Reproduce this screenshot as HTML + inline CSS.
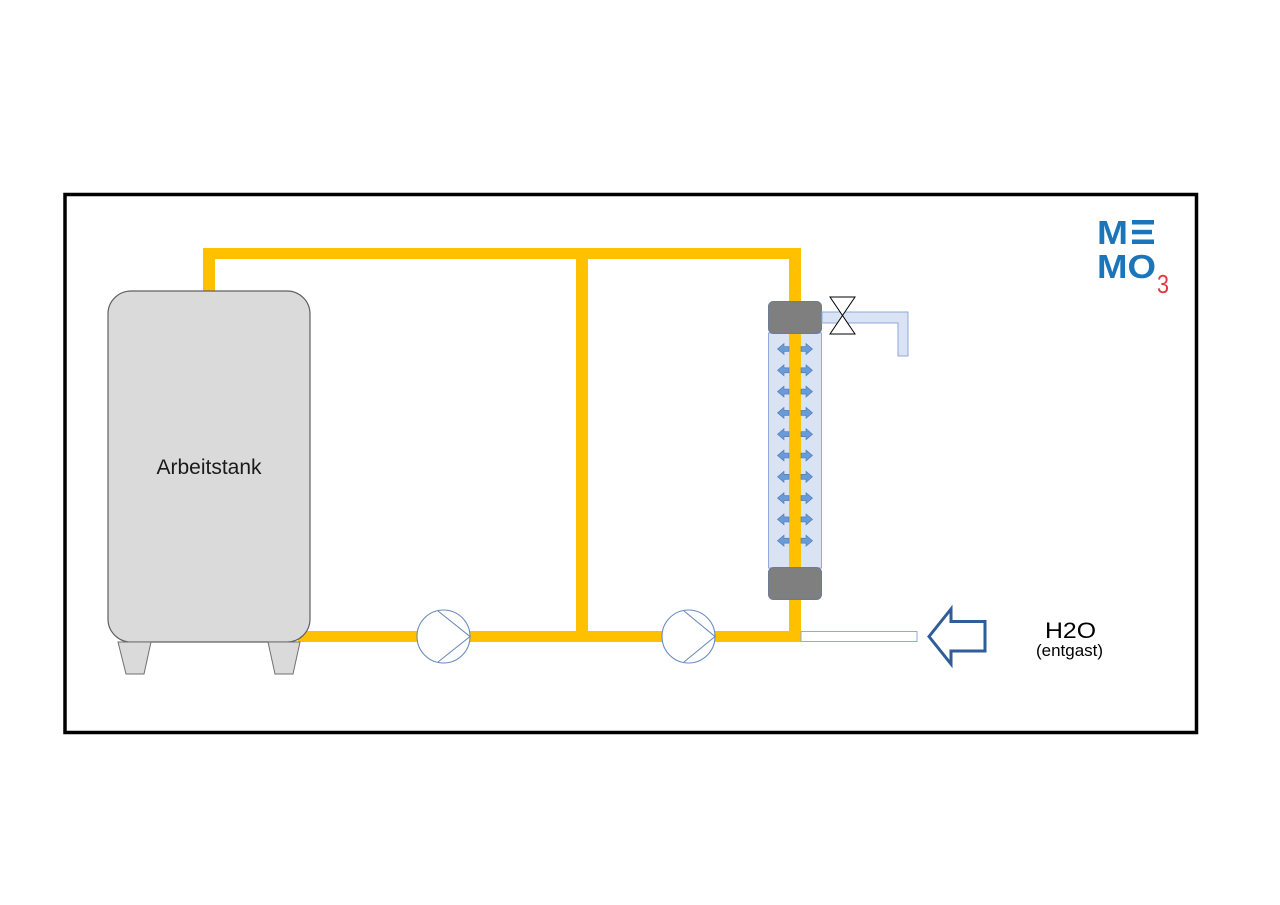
<!DOCTYPE html>
<html>
<head>
<meta charset="utf-8">
<style>
  html, body { margin: 0; padding: 0; background: #ffffff; }
  body { width: 1280px; height: 905px; overflow: hidden; }
  svg { display: block; }
</style>
</head>
<body>
<svg width="1280" height="905" viewBox="0 0 1280 905" xmlns="http://www.w3.org/2000/svg">
  <rect x="0" y="0" width="1280" height="905" fill="#ffffff"/>
  <!-- outer frame -->
  <rect x="65" y="194.5" width="1131.5" height="538" fill="#ffffff" stroke="#000000" stroke-width="3.5"/>

  <!-- yellow pipes -->
  <g fill="#ffc000">
    <rect x="203" y="248" width="598" height="11"/>
    <rect x="203" y="248" width="12" height="45"/>
    <rect x="576" y="248" width="12" height="394"/>
    <rect x="789" y="248" width="12" height="55"/>
    <rect x="789" y="598" width="12" height="44"/>
    <rect x="298" y="631" width="503" height="11"/>
  </g>

  <!-- tank -->
  <path d="M131,291 H287 A23,23 0 0 1 310,314 V619 A23,23 0 0 1 287,642 H131 A23,23 0 0 1 108,619 V314 A23,23 0 0 1 131,291 Z" fill="#dadada" stroke="#606060" stroke-width="1.2"/>
  <polygon points="118,642 151,642 144,674 126,674" fill="#dadada" stroke="#707070" stroke-width="1"/>
  <polygon points="268,642 300,642 293,674 275,674" fill="#dadada" stroke="#707070" stroke-width="1"/>
  <text x="209" y="474" text-anchor="middle" font-family="Liberation Sans, Arial, sans-serif" font-size="21" fill="#1a1a1a">Arbeitstank</text>

  <!-- pumps -->
  <g fill="#ffffff" stroke="#6a8bbd" stroke-width="1.1">
    <circle cx="443.5" cy="636.5" r="26.5"/>
    <polyline points="438,611 470,636.5 438,662" fill="none"/>
    <circle cx="688.5" cy="636.5" r="26.5"/>
    <polyline points="684,611 715,636.5 684,662" fill="none"/>
  </g>

  <!-- column -->
  <rect x="768.5" y="333" width="53" height="235" fill="#dae3f3" stroke="#8faadc" stroke-width="1"/>
  <rect x="789" y="333" width="12" height="236" fill="#ffc000"/>
  <rect x="768.5" y="301.5" width="53" height="32" rx="5" ry="5" fill="#7f7f7f" stroke="#6b7b98" stroke-width="1"/>
  <rect x="768.5" y="567.5" width="53" height="32" rx="5" ry="5" fill="#7f7f7f" stroke="#6b7b98" stroke-width="1"/>

  <!-- double arrows -->
  <g fill="#6a9bd6" stroke="#4a78b8" stroke-width="0.6">
    <g id="da">
      <polygon points="777.5,349 784,343.5 784,346.5 789,346.5 789,351.5 784,351.5 784,354.5"/>
      <polygon points="812.5,349 806,343.5 806,346.5 801,346.5 801,351.5 806,351.5 806,354.5"/>
    </g>
    <use href="#da" y="21.3"/>
    <use href="#da" y="42.6"/>
    <use href="#da" y="63.9"/>
    <use href="#da" y="85.2"/>
    <use href="#da" y="106.5"/>
    <use href="#da" y="127.8"/>
    <use href="#da" y="149.1"/>
    <use href="#da" y="170.4"/>
    <use href="#da" y="191.7"/>
  </g>

  <!-- vent pipe + valve -->
  <path d="M822,312 H908 V356 H898 V323 H822 Z" fill="#dae3f3" stroke="#8faadc" stroke-width="1"/>
  <path d="M830,297 L855,297 L830,334 L855,334 Z" fill="#ffffff" stroke="#000000" stroke-width="1"/>

  <!-- water inlet -->
  <rect x="801" y="631.5" width="116" height="10" fill="#ffffff" stroke="#8faadc" stroke-width="1"/>
  <polygon points="929,636.5 951,609 951,621.5 985,621.5 985,651 951,651 951,664" fill="#ffffff" stroke="#2e5d9a" stroke-width="3" stroke-linejoin="miter"/>
  <text x="1045" y="638" font-family="Liberation Sans, Arial, sans-serif" font-size="22" fill="#000000" textLength="51" lengthAdjust="spacingAndGlyphs">H2O</text>
  <text x="1036" y="656" font-family="Liberation Sans, Arial, sans-serif" font-size="17" fill="#000000" textLength="67" lengthAdjust="spacingAndGlyphs">(entgast)</text>

  <!-- logo -->
  <g fill="#1b75bb">
    <text x="1097" y="244" font-family="Liberation Sans, Arial, sans-serif" font-weight="bold" font-size="33" textLength="31" lengthAdjust="spacingAndGlyphs">M</text>
    <rect x="1132" y="220" width="22" height="4.5"/>
    <rect x="1132" y="229.8" width="20" height="4.5"/>
    <rect x="1132" y="239.5" width="22" height="4.5"/>
    <text x="1097" y="278" font-family="Liberation Sans, Arial, sans-serif" font-weight="bold" font-size="33" textLength="59" lengthAdjust="spacingAndGlyphs">MO</text>
  </g>
  <text x="1157" y="293" font-family="Liberation Sans, Arial, sans-serif" font-size="26" fill="#e0393e" textLength="12" lengthAdjust="spacingAndGlyphs">3</text>
</svg>
</body>
</html>
